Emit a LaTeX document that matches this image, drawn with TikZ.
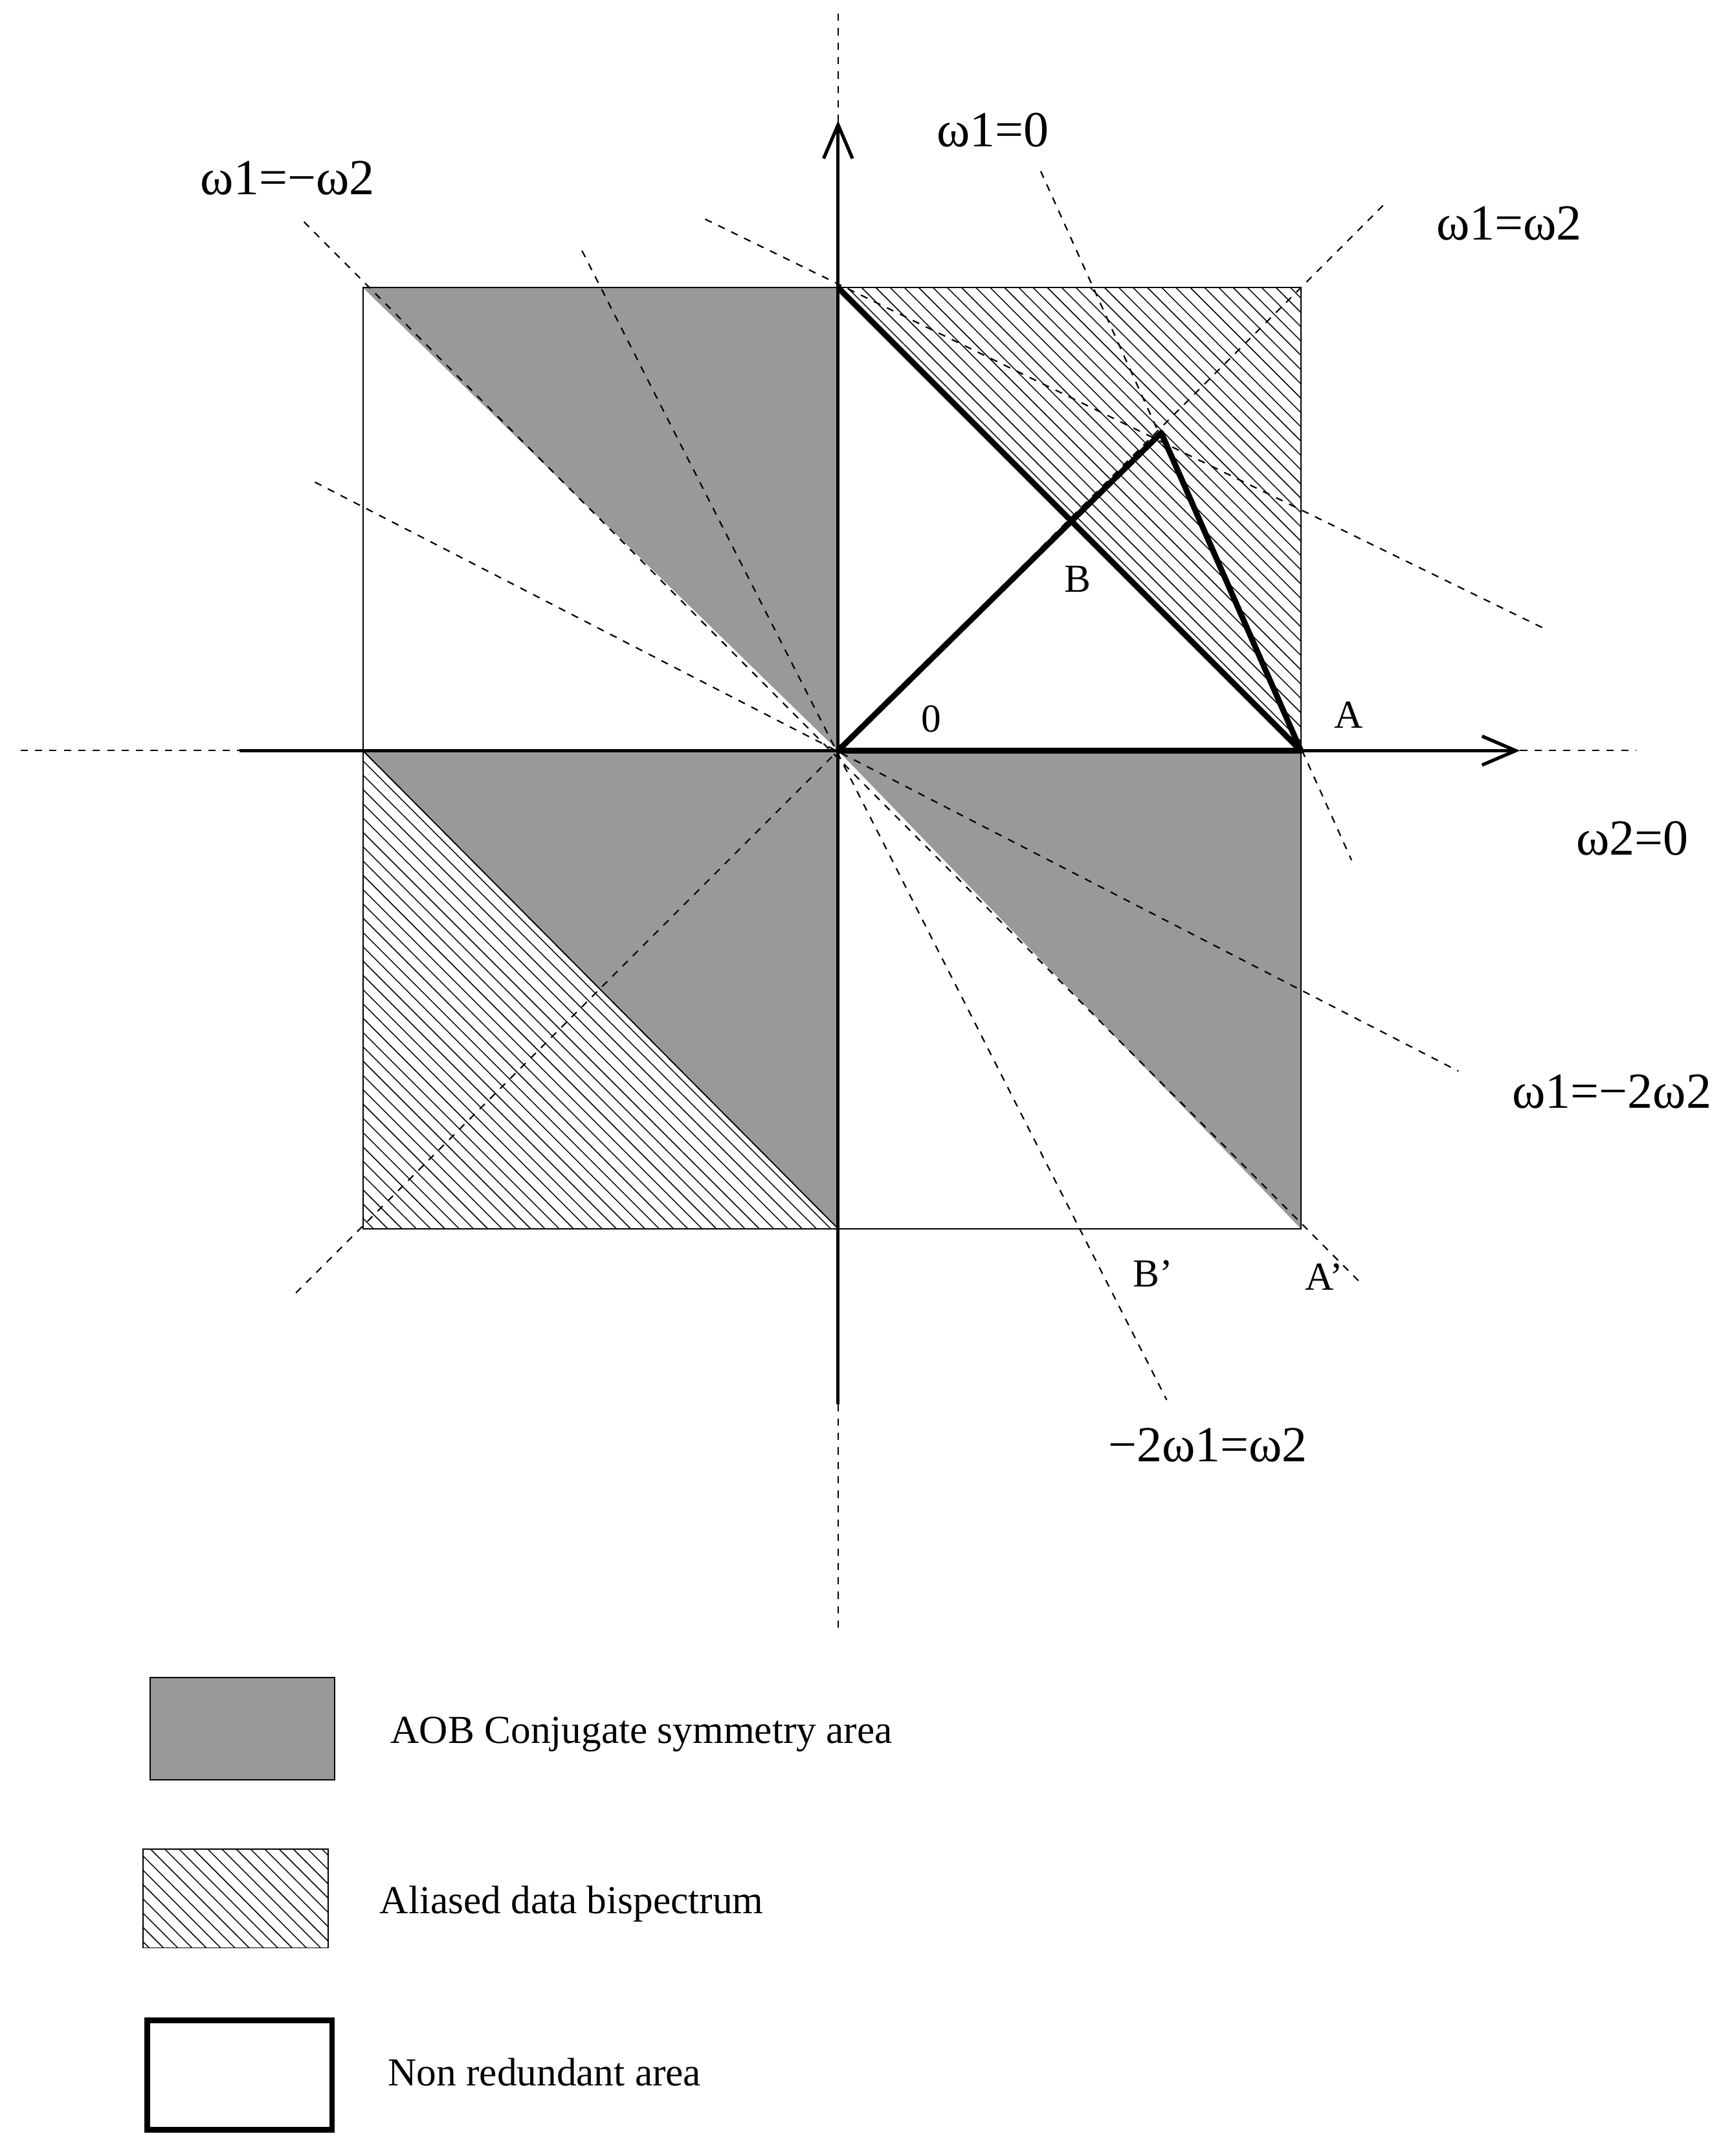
\documentclass[tikz,border=0pt]{standalone}
\usepackage{fontspec}
\setmainfont{Liberation Serif}
\usetikzlibrary{arrows.meta,patterns.meta}
\begin{document}
\begin{tikzpicture}[x=0.02cm,y=-0.02cm,
  dl/.style={dashed,line width=0.6pt},
  thin/.style={line width=0.5pt},
  thk/.style={line width=2.4pt},
  ax/.style={line width=1.4pt,-{Straight Barb[length=14pt,width=12pt,line width=1.4pt]}},
  lab/.style={font=\fontsize{16.5}{18}\selectfont,inner sep=0pt},
  glab/.style={font=\fontsize{21}{23}\selectfont,inner sep=0pt},
  hatch/.style={pattern={Lines[angle=-45,distance=4.2pt,line width=0.4pt]}}]
\useasboundingbox (0,0) rectangle (1250,1574);
\coordinate (O) at (612,548);
\coordinate (TL) at (265,210); \coordinate (TM) at (612,210); \coordinate (TR) at (950,210);
\coordinate (ML) at (265,548); \coordinate (A) at (950,548);
\coordinate (BL) at (265,897); \coordinate (BM) at (612,897); \coordinate (BR) at (950,897);
\coordinate (P) at (848,316);
% fills
\fill[gray!80] (TL) -- (TM) -- (O) -- cycle;
\fill[gray!80] (ML) -- (O) -- (BM) -- cycle;
\fill[gray!80] (O) -- (A) -- (BR) -- cycle;
\fill[hatch] (ML) -- (BL) -- (BM) -- cycle;
\fill[hatch] (TM) -- (TR) -- (A) -- cycle;
% square outline
\draw[thin] (TL) rectangle (BR);
\draw[thin] (ML) -- (BM);
% dashed lines
\draw[dl] (612,10) -- (612,90);
\draw[dl] (612,1025) -- (612,1190);
\draw[dl] (15,548) -- (175,548);
\draw[dl] (1110,548) -- (1195,548);
\draw[dl] (222,162) -- (995,938);
\draw[dl] (1010,150) -- (215,945);
\draw[dl] (760,125) -- (987,628);
\draw[dl] (425,183) -- (852,1022);
\draw[dl] (230,352) -- (1065,782);
\draw[dl] (515,160) -- (1130,460);
% axes
\draw[ax] (612,1025) -- (612,88);
\draw[ax] (175,548) -- (1110,548);
% thick lines
\draw[thk] (TM) -- (A);
\draw[thk,line join=round] (O) -- (P) -- (A) -- cycle;
% labels
\node[glab] (l1) at (210,130) {ω1=−ω2};
\node[glab] (l2) at (725,95) {ω1=0};
\node[glab] (l3) at (1102,163) {ω1=ω2};
\node[glab] (l4) at (1192,612) {ω2=0};
\node[glab] (l5) at (1177,797) {ω1=−2ω2};
\node[glab] (l6) at (882,1055) {−2ω1=ω2};
\node[lab] (nB) at (787,423) {B};
\node[lab] (n0) at (680,525) {0};
\node[lab] (nA) at (985,522) {A};
\node[lab] (nB2) at (842,930) {B’};
\node[lab] (nA2) at (967,932) {A’};
% legend
\node[draw,thin,fill=gray!80,minimum width=2.7cm,minimum height=1.5cm] (g1) at (177,1262) {};
\node[draw,thin,hatch,minimum width=2.7cm,minimum height=1.44cm] (g2) at (172,1386) {};
\node[draw,line width=2.4pt,minimum width=2.7cm,minimum height=1.6cm] (g3) at (175,1515) {};
\node[lab,anchor=west] (t1) at (285,1266) {AOB Conjugate symmetry area};
\node[lab,anchor=west] (t2) at (277,1390) {Aliased data bispectrum};
\node[lab,anchor=west] (t3) at (283,1513) {Non redundant area};
\end{tikzpicture}
\end{document}
